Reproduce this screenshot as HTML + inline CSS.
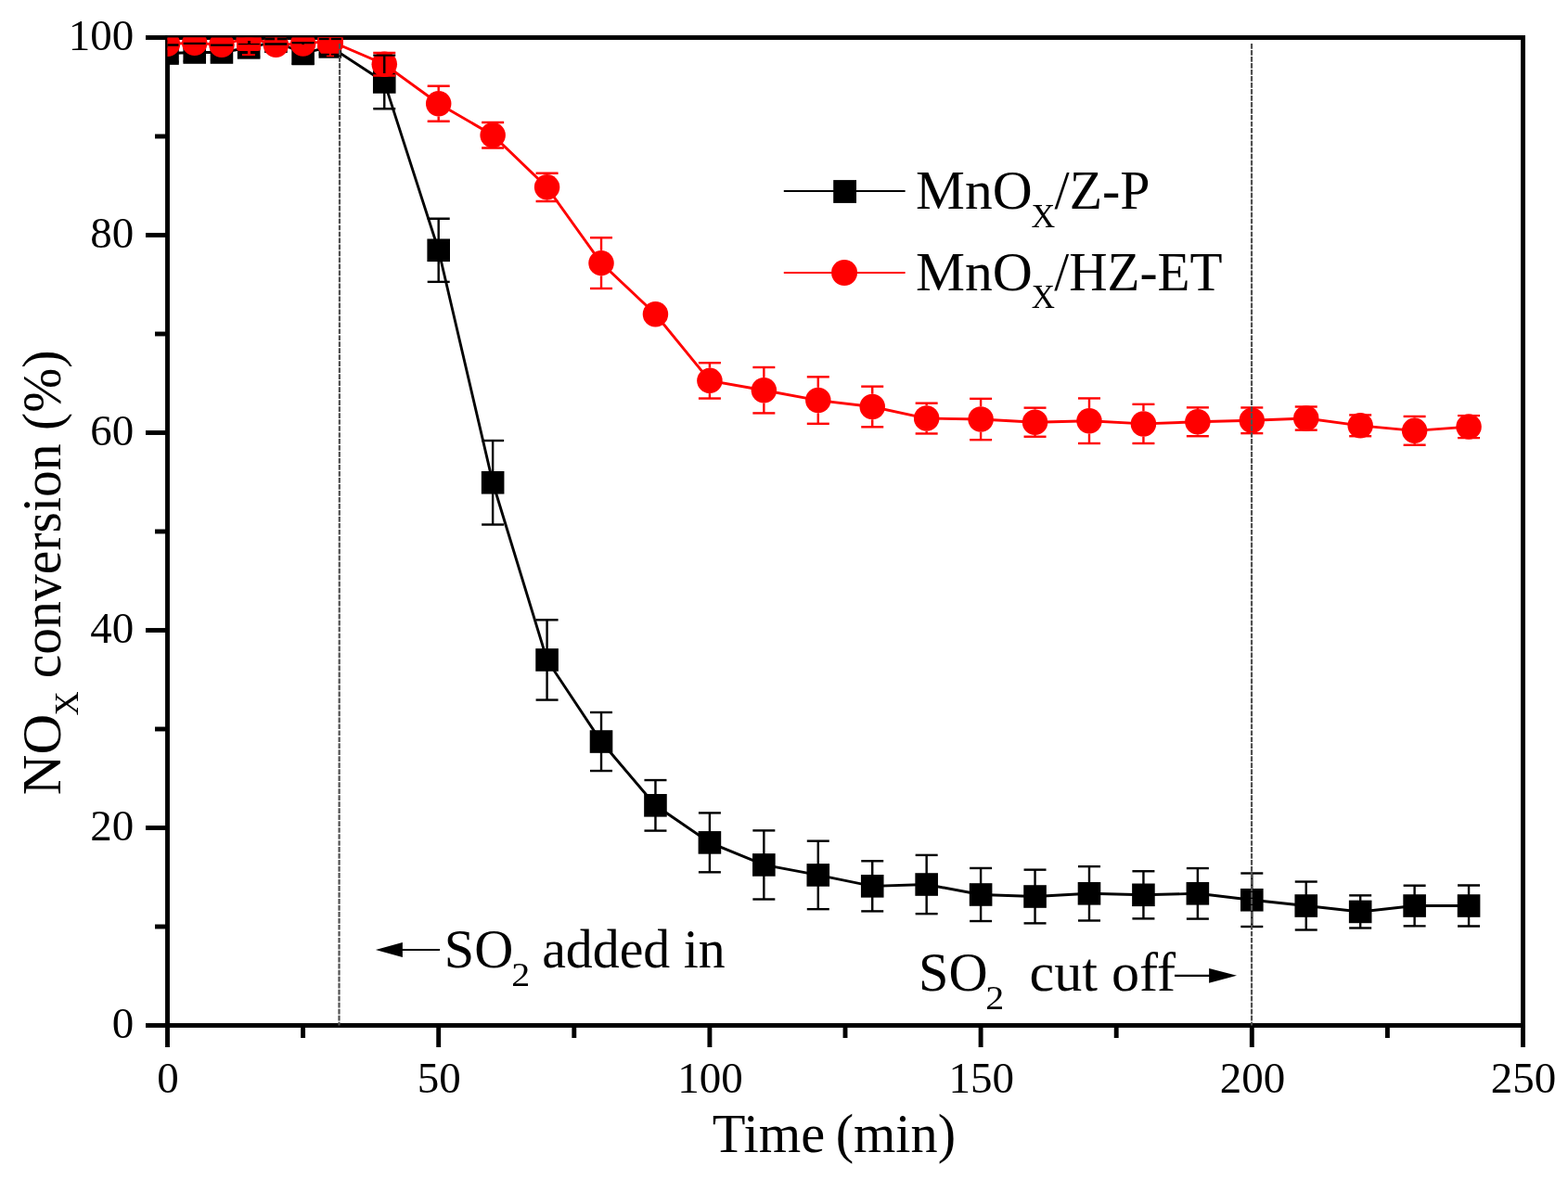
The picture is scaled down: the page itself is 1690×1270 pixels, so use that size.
<!DOCTYPE html><html><head><meta charset="utf-8"><title>NOx conversion vs time</title><style>html,body{margin:0;padding:0;background:#fff;}svg{display:block;}text{font-family:"Liberation Serif","Times New Roman",serif;fill:#000;}</style></head><body>
<svg width="1690" height="1270" viewBox="0 0 1690 1270">
<rect x="0" y="0" width="1690" height="1270" fill="#fff"/>
<defs><clipPath id="c"><rect x="180.50" y="40.50" width="1461.00" height="1065.00"/></clipPath></defs>
<g stroke="#000" stroke-width="4.90" fill="none" stroke-linecap="butt">
<rect x="180.50" y="40.50" width="1461.00" height="1065.00"/>
<line x1="157.00" y1="1105.50" x2="180.50" y2="1105.50"/>
<line x1="167.00" y1="999.00" x2="180.50" y2="999.00"/>
<line x1="157.00" y1="892.50" x2="180.50" y2="892.50"/>
<line x1="167.00" y1="786.00" x2="180.50" y2="786.00"/>
<line x1="157.00" y1="679.50" x2="180.50" y2="679.50"/>
<line x1="167.00" y1="573.00" x2="180.50" y2="573.00"/>
<line x1="157.00" y1="466.50" x2="180.50" y2="466.50"/>
<line x1="167.00" y1="360.00" x2="180.50" y2="360.00"/>
<line x1="157.00" y1="253.50" x2="180.50" y2="253.50"/>
<line x1="167.00" y1="147.00" x2="180.50" y2="147.00"/>
<line x1="157.00" y1="40.50" x2="180.50" y2="40.50"/>
<line x1="180.50" y1="1105.50" x2="180.50" y2="1129.00"/>
<line x1="326.60" y1="1105.50" x2="326.60" y2="1119.00"/>
<line x1="472.70" y1="1105.50" x2="472.70" y2="1129.00"/>
<line x1="618.80" y1="1105.50" x2="618.80" y2="1119.00"/>
<line x1="764.90" y1="1105.50" x2="764.90" y2="1129.00"/>
<line x1="911.00" y1="1105.50" x2="911.00" y2="1119.00"/>
<line x1="1057.10" y1="1105.50" x2="1057.10" y2="1129.00"/>
<line x1="1203.20" y1="1105.50" x2="1203.20" y2="1119.00"/>
<line x1="1349.30" y1="1105.50" x2="1349.30" y2="1129.00"/>
<line x1="1495.40" y1="1105.50" x2="1495.40" y2="1119.00"/>
<line x1="1641.50" y1="1105.50" x2="1641.50" y2="1129.00"/>
</g>
<g clip-path="url(#c)">
<polyline points="180.50,57.54 209.72,56.48 238.94,56.48 268.16,51.36 297.38,44.76 326.60,57.54 355.82,50.40 414.26,88.43 472.70,269.79 531.14,520.28 589.58,711.45 648.02,799.53 706.46,868.32 764.90,908.37 823.34,932.44 881.78,943.41 940.22,955.34 998.66,953.52 1057.10,964.49 1115.54,966.52 1173.98,963.32 1232.42,964.81 1290.86,963.32 1349.30,970.25 1407.74,976.53 1466.18,982.92 1524.62,976.53 1583.06,976.53" fill="none" stroke="#000" stroke-width="2.90" stroke-linejoin="miter"/>
<rect x="168.20" y="45.24" width="24.60" height="24.60" fill="#000"/>
<rect x="197.42" y="44.17" width="24.60" height="24.60" fill="#000"/>
<rect x="226.64" y="44.17" width="24.60" height="24.60" fill="#000"/>
<rect x="255.86" y="39.06" width="24.60" height="24.60" fill="#000"/>
<rect x="285.08" y="32.46" width="24.60" height="24.60" fill="#000"/>
<rect x="314.30" y="45.24" width="24.60" height="24.60" fill="#000"/>
<rect x="343.52" y="38.10" width="24.60" height="24.60" fill="#000"/>
<rect x="401.96" y="76.13" width="24.60" height="24.60" fill="#000"/>
<rect x="460.40" y="257.49" width="24.60" height="24.60" fill="#000"/>
<rect x="518.84" y="507.98" width="24.60" height="24.60" fill="#000"/>
<rect x="577.28" y="699.15" width="24.60" height="24.60" fill="#000"/>
<rect x="635.72" y="787.23" width="24.60" height="24.60" fill="#000"/>
<rect x="694.16" y="856.02" width="24.60" height="24.60" fill="#000"/>
<rect x="752.60" y="896.07" width="24.60" height="24.60" fill="#000"/>
<rect x="811.04" y="920.14" width="24.60" height="24.60" fill="#000"/>
<rect x="869.48" y="931.11" width="24.60" height="24.60" fill="#000"/>
<rect x="927.92" y="943.04" width="24.60" height="24.60" fill="#000"/>
<rect x="986.36" y="941.22" width="24.60" height="24.60" fill="#000"/>
<rect x="1044.80" y="952.19" width="24.60" height="24.60" fill="#000"/>
<rect x="1103.24" y="954.22" width="24.60" height="24.60" fill="#000"/>
<rect x="1161.68" y="951.02" width="24.60" height="24.60" fill="#000"/>
<rect x="1220.12" y="952.51" width="24.60" height="24.60" fill="#000"/>
<rect x="1278.56" y="951.02" width="24.60" height="24.60" fill="#000"/>
<rect x="1337.00" y="957.95" width="24.60" height="24.60" fill="#000"/>
<rect x="1395.44" y="964.23" width="24.60" height="24.60" fill="#000"/>
<rect x="1453.88" y="970.62" width="24.60" height="24.60" fill="#000"/>
<rect x="1512.32" y="964.23" width="24.60" height="24.60" fill="#000"/>
<rect x="1570.76" y="964.23" width="24.60" height="24.60" fill="#000"/>
<polyline points="180.50,47.32 209.72,46.36 238.94,48.17 268.16,40.82 297.38,48.27 326.60,47.10 355.82,44.12 414.26,69.26 472.70,111.75 531.14,145.72 589.58,201.85 648.02,283.64 706.46,338.81 764.90,410.37 823.34,420.71 881.78,431.57 940.22,438.49 998.66,451.06 1057.10,452.02 1115.54,455.21 1173.98,453.72 1232.42,456.92 1290.86,454.79 1349.30,453.29 1407.74,451.06 1466.18,458.83 1524.62,464.37 1583.06,460.11" fill="none" stroke="#f00" stroke-width="2.90" stroke-linejoin="miter"/>
<circle cx="180.50" cy="47.32" r="13.75" fill="#f00"/>
<circle cx="209.72" cy="46.36" r="13.75" fill="#f00"/>
<circle cx="238.94" cy="48.17" r="13.75" fill="#f00"/>
<circle cx="268.16" cy="40.82" r="13.75" fill="#f00"/>
<circle cx="297.38" cy="48.27" r="13.75" fill="#f00"/>
<circle cx="326.60" cy="47.10" r="13.75" fill="#f00"/>
<circle cx="355.82" cy="44.12" r="13.75" fill="#f00"/>
<circle cx="414.26" cy="69.26" r="13.75" fill="#f00"/>
<circle cx="472.70" cy="111.75" r="13.75" fill="#f00"/>
<circle cx="531.14" cy="145.72" r="13.75" fill="#f00"/>
<circle cx="589.58" cy="201.85" r="13.75" fill="#f00"/>
<circle cx="648.02" cy="283.64" r="13.75" fill="#f00"/>
<circle cx="706.46" cy="338.81" r="13.75" fill="#f00"/>
<circle cx="764.90" cy="410.37" r="13.75" fill="#f00"/>
<circle cx="823.34" cy="420.71" r="13.75" fill="#f00"/>
<circle cx="881.78" cy="431.57" r="13.75" fill="#f00"/>
<circle cx="940.22" cy="438.49" r="13.75" fill="#f00"/>
<circle cx="998.66" cy="451.06" r="13.75" fill="#f00"/>
<circle cx="1057.10" cy="452.02" r="13.75" fill="#f00"/>
<circle cx="1115.54" cy="455.21" r="13.75" fill="#f00"/>
<circle cx="1173.98" cy="453.72" r="13.75" fill="#f00"/>
<circle cx="1232.42" cy="456.92" r="13.75" fill="#f00"/>
<circle cx="1290.86" cy="454.79" r="13.75" fill="#f00"/>
<circle cx="1349.30" cy="453.29" r="13.75" fill="#f00"/>
<circle cx="1407.74" cy="451.06" r="13.75" fill="#f00"/>
<circle cx="1466.18" cy="458.83" r="13.75" fill="#f00"/>
<circle cx="1524.62" cy="464.37" r="13.75" fill="#f00"/>
<circle cx="1583.06" cy="460.11" r="13.75" fill="#f00"/>
<g stroke="#000" stroke-width="2.40" fill="none"><line x1="168.50" y1="48.49" x2="192.50" y2="48.49"/><line x1="168.50" y1="66.59" x2="192.50" y2="66.59"/><line x1="209.72" y1="46.98" x2="209.72" y2="46.89"/><line x1="209.72" y1="65.97" x2="209.72" y2="66.06"/><line x1="197.72" y1="46.89" x2="221.72" y2="46.89"/><line x1="197.72" y1="66.06" x2="221.72" y2="66.06"/><line x1="226.94" y1="48.59" x2="250.94" y2="48.59"/><line x1="226.94" y1="64.36" x2="250.94" y2="64.36"/><line x1="268.16" y1="41.86" x2="268.16" y2="41.78"/><line x1="268.16" y1="60.86" x2="268.16" y2="60.95"/><line x1="256.16" y1="41.78" x2="280.16" y2="41.78"/><line x1="256.16" y1="60.95" x2="280.16" y2="60.95"/><line x1="285.38" y1="41.99" x2="309.38" y2="41.99"/><line x1="285.38" y1="47.53" x2="309.38" y2="47.53"/><line x1="326.60" y1="48.04" x2="326.60" y2="46.14"/><line x1="326.60" y1="67.04" x2="326.60" y2="68.94"/><line x1="314.60" y1="46.14" x2="338.60" y2="46.14"/><line x1="314.60" y1="68.94" x2="338.60" y2="68.94"/><line x1="343.82" y1="42.10" x2="367.82" y2="42.10"/><line x1="343.82" y1="58.71" x2="367.82" y2="58.71"/><line x1="414.26" y1="78.93" x2="414.26" y2="59.67"/><line x1="414.26" y1="97.93" x2="414.26" y2="117.18"/><line x1="402.26" y1="59.67" x2="426.26" y2="59.67"/><line x1="402.26" y1="117.18" x2="426.26" y2="117.18"/><line x1="472.70" y1="260.29" x2="472.70" y2="235.71"/><line x1="472.70" y1="279.29" x2="472.70" y2="303.87"/><line x1="460.70" y1="235.71" x2="484.70" y2="235.71"/><line x1="460.70" y1="303.87" x2="484.70" y2="303.87"/><line x1="531.14" y1="510.78" x2="531.14" y2="475.02"/><line x1="531.14" y1="529.78" x2="531.14" y2="565.55"/><line x1="519.14" y1="475.02" x2="543.14" y2="475.02"/><line x1="519.14" y1="565.55" x2="543.14" y2="565.55"/><line x1="589.58" y1="701.95" x2="589.58" y2="668.32"/><line x1="589.58" y1="720.95" x2="589.58" y2="754.58"/><line x1="577.58" y1="668.32" x2="601.58" y2="668.32"/><line x1="577.58" y1="754.58" x2="601.58" y2="754.58"/><line x1="648.02" y1="790.03" x2="648.02" y2="768.00"/><line x1="648.02" y1="809.03" x2="648.02" y2="831.05"/><line x1="636.02" y1="768.00" x2="660.02" y2="768.00"/><line x1="636.02" y1="831.05" x2="660.02" y2="831.05"/><line x1="706.46" y1="858.82" x2="706.46" y2="841.06"/><line x1="706.46" y1="877.82" x2="706.46" y2="895.59"/><line x1="694.46" y1="841.06" x2="718.46" y2="841.06"/><line x1="694.46" y1="895.59" x2="718.46" y2="895.59"/><line x1="764.90" y1="898.87" x2="764.90" y2="876.42"/><line x1="764.90" y1="917.87" x2="764.90" y2="940.32"/><line x1="752.90" y1="876.42" x2="776.90" y2="876.42"/><line x1="752.90" y1="940.32" x2="776.90" y2="940.32"/><line x1="823.34" y1="922.94" x2="823.34" y2="895.38"/><line x1="823.34" y1="941.94" x2="823.34" y2="969.50"/><line x1="811.34" y1="895.38" x2="835.34" y2="895.38"/><line x1="811.34" y1="969.50" x2="835.34" y2="969.50"/><line x1="881.78" y1="933.91" x2="881.78" y2="906.66"/><line x1="881.78" y1="952.91" x2="881.78" y2="980.15"/><line x1="869.78" y1="906.66" x2="893.78" y2="906.66"/><line x1="869.78" y1="980.15" x2="893.78" y2="980.15"/><line x1="940.22" y1="945.84" x2="940.22" y2="928.28"/><line x1="940.22" y1="964.84" x2="940.22" y2="982.39"/><line x1="928.22" y1="928.28" x2="952.22" y2="928.28"/><line x1="928.22" y1="982.39" x2="952.22" y2="982.39"/><line x1="998.66" y1="944.02" x2="998.66" y2="921.89"/><line x1="998.66" y1="963.02" x2="998.66" y2="985.16"/><line x1="986.66" y1="921.89" x2="1010.66" y2="921.89"/><line x1="986.66" y1="985.16" x2="1010.66" y2="985.16"/><line x1="1057.10" y1="954.99" x2="1057.10" y2="935.95"/><line x1="1057.10" y1="973.99" x2="1057.10" y2="993.04"/><line x1="1045.10" y1="935.95" x2="1069.10" y2="935.95"/><line x1="1045.10" y1="993.04" x2="1069.10" y2="993.04"/><line x1="1115.54" y1="957.02" x2="1115.54" y2="937.66"/><line x1="1115.54" y1="976.02" x2="1115.54" y2="995.38"/><line x1="1103.54" y1="937.66" x2="1127.54" y2="937.66"/><line x1="1103.54" y1="995.38" x2="1127.54" y2="995.38"/><line x1="1173.98" y1="953.82" x2="1173.98" y2="934.14"/><line x1="1173.98" y1="972.82" x2="1173.98" y2="992.50"/><line x1="1161.98" y1="934.14" x2="1185.98" y2="934.14"/><line x1="1161.98" y1="992.50" x2="1185.98" y2="992.50"/><line x1="1232.42" y1="955.31" x2="1232.42" y2="939.25"/><line x1="1232.42" y1="974.31" x2="1232.42" y2="990.37"/><line x1="1220.42" y1="939.25" x2="1244.42" y2="939.25"/><line x1="1220.42" y1="990.37" x2="1244.42" y2="990.37"/><line x1="1290.86" y1="953.82" x2="1290.86" y2="936.06"/><line x1="1290.86" y1="972.82" x2="1290.86" y2="990.59"/><line x1="1278.86" y1="936.06" x2="1302.86" y2="936.06"/><line x1="1278.86" y1="990.59" x2="1302.86" y2="990.59"/><line x1="1349.30" y1="960.75" x2="1349.30" y2="941.49"/><line x1="1349.30" y1="979.75" x2="1349.30" y2="999.00"/><line x1="1337.30" y1="941.49" x2="1361.30" y2="941.49"/><line x1="1337.30" y1="999.00" x2="1361.30" y2="999.00"/><line x1="1407.74" y1="967.03" x2="1407.74" y2="950.54"/><line x1="1407.74" y1="986.03" x2="1407.74" y2="1002.51"/><line x1="1395.74" y1="950.54" x2="1419.74" y2="950.54"/><line x1="1395.74" y1="1002.51" x2="1419.74" y2="1002.51"/><line x1="1466.18" y1="973.42" x2="1466.18" y2="965.35"/><line x1="1466.18" y1="992.42" x2="1466.18" y2="1000.49"/><line x1="1454.18" y1="965.35" x2="1478.18" y2="965.35"/><line x1="1454.18" y1="1000.49" x2="1478.18" y2="1000.49"/><line x1="1524.62" y1="967.03" x2="1524.62" y2="954.70"/><line x1="1524.62" y1="986.03" x2="1524.62" y2="998.36"/><line x1="1512.62" y1="954.70" x2="1536.62" y2="954.70"/><line x1="1512.62" y1="998.36" x2="1536.62" y2="998.36"/><line x1="1583.06" y1="967.03" x2="1583.06" y2="954.48"/><line x1="1583.06" y1="986.03" x2="1583.06" y2="998.57"/><line x1="1571.06" y1="954.48" x2="1595.06" y2="954.48"/><line x1="1571.06" y1="998.57" x2="1595.06" y2="998.57"/></g>
<g stroke="#f00" stroke-width="2.40" fill="none"><line x1="168.50" y1="41.99" x2="192.50" y2="41.99"/><line x1="168.50" y1="52.64" x2="192.50" y2="52.64"/><line x1="197.72" y1="41.03" x2="221.72" y2="41.03"/><line x1="197.72" y1="51.68" x2="221.72" y2="51.68"/><line x1="226.94" y1="42.84" x2="250.94" y2="42.84"/><line x1="226.94" y1="53.49" x2="250.94" y2="53.49"/><line x1="314.60" y1="41.78" x2="338.60" y2="41.78"/><line x1="314.60" y1="52.43" x2="338.60" y2="52.43"/><line x1="402.26" y1="57.01" x2="426.26" y2="57.01"/><line x1="402.26" y1="81.50" x2="426.26" y2="81.50"/><line x1="472.70" y1="98.00" x2="472.70" y2="92.68"/><line x1="472.70" y1="125.50" x2="472.70" y2="130.81"/><line x1="460.70" y1="92.68" x2="484.70" y2="92.68"/><line x1="460.70" y1="130.81" x2="484.70" y2="130.81"/><line x1="519.14" y1="131.98" x2="543.14" y2="131.98"/><line x1="519.14" y1="159.46" x2="543.14" y2="159.46"/><line x1="589.58" y1="188.10" x2="589.58" y2="186.72"/><line x1="589.58" y1="215.60" x2="589.58" y2="216.97"/><line x1="577.58" y1="186.72" x2="601.58" y2="186.72"/><line x1="577.58" y1="216.97" x2="601.58" y2="216.97"/><line x1="648.02" y1="269.89" x2="648.02" y2="256.27"/><line x1="648.02" y1="297.39" x2="648.02" y2="311.01"/><line x1="636.02" y1="256.27" x2="660.02" y2="256.27"/><line x1="636.02" y1="311.01" x2="660.02" y2="311.01"/><line x1="694.46" y1="333.48" x2="718.46" y2="333.48"/><line x1="694.46" y1="344.13" x2="718.46" y2="344.13"/><line x1="764.90" y1="396.62" x2="764.90" y2="391.20"/><line x1="764.90" y1="424.12" x2="764.90" y2="429.54"/><line x1="752.90" y1="391.20" x2="776.90" y2="391.20"/><line x1="752.90" y1="429.54" x2="776.90" y2="429.54"/><line x1="823.34" y1="406.96" x2="823.34" y2="396.00"/><line x1="823.34" y1="434.46" x2="823.34" y2="445.41"/><line x1="811.34" y1="396.00" x2="835.34" y2="396.00"/><line x1="811.34" y1="445.41" x2="835.34" y2="445.41"/><line x1="881.78" y1="417.82" x2="881.78" y2="406.33"/><line x1="881.78" y1="445.32" x2="881.78" y2="456.81"/><line x1="869.78" y1="406.33" x2="893.78" y2="406.33"/><line x1="869.78" y1="456.81" x2="893.78" y2="456.81"/><line x1="940.22" y1="424.74" x2="940.22" y2="416.66"/><line x1="940.22" y1="452.24" x2="940.22" y2="460.32"/><line x1="928.22" y1="416.66" x2="952.22" y2="416.66"/><line x1="928.22" y1="460.32" x2="952.22" y2="460.32"/><line x1="998.66" y1="437.31" x2="998.66" y2="434.66"/><line x1="998.66" y1="464.81" x2="998.66" y2="467.46"/><line x1="986.66" y1="434.66" x2="1010.66" y2="434.66"/><line x1="986.66" y1="467.46" x2="1010.66" y2="467.46"/><line x1="1057.10" y1="438.27" x2="1057.10" y2="429.86"/><line x1="1057.10" y1="465.77" x2="1057.10" y2="474.17"/><line x1="1045.10" y1="429.86" x2="1069.10" y2="429.86"/><line x1="1045.10" y1="474.17" x2="1069.10" y2="474.17"/><line x1="1115.54" y1="441.46" x2="1115.54" y2="439.66"/><line x1="1115.54" y1="468.96" x2="1115.54" y2="470.76"/><line x1="1103.54" y1="439.66" x2="1127.54" y2="439.66"/><line x1="1103.54" y1="470.76" x2="1127.54" y2="470.76"/><line x1="1173.98" y1="439.97" x2="1173.98" y2="429.44"/><line x1="1173.98" y1="467.47" x2="1173.98" y2="478.00"/><line x1="1161.98" y1="429.44" x2="1185.98" y2="429.44"/><line x1="1161.98" y1="478.00" x2="1185.98" y2="478.00"/><line x1="1232.42" y1="443.17" x2="1232.42" y2="435.83"/><line x1="1232.42" y1="470.67" x2="1232.42" y2="478.00"/><line x1="1220.42" y1="435.83" x2="1244.42" y2="435.83"/><line x1="1220.42" y1="478.00" x2="1244.42" y2="478.00"/><line x1="1290.86" y1="441.04" x2="1290.86" y2="439.34"/><line x1="1290.86" y1="468.54" x2="1290.86" y2="470.23"/><line x1="1278.86" y1="439.34" x2="1302.86" y2="439.34"/><line x1="1278.86" y1="470.23" x2="1302.86" y2="470.23"/><line x1="1349.30" y1="439.54" x2="1349.30" y2="439.45"/><line x1="1349.30" y1="467.04" x2="1349.30" y2="467.14"/><line x1="1337.30" y1="439.45" x2="1361.30" y2="439.45"/><line x1="1337.30" y1="467.14" x2="1361.30" y2="467.14"/><line x1="1395.74" y1="438.49" x2="1419.74" y2="438.49"/><line x1="1395.74" y1="463.62" x2="1419.74" y2="463.62"/><line x1="1454.18" y1="447.44" x2="1478.18" y2="447.44"/><line x1="1454.18" y1="470.23" x2="1478.18" y2="470.23"/><line x1="1524.62" y1="450.62" x2="1524.62" y2="448.93"/><line x1="1524.62" y1="478.12" x2="1524.62" y2="479.81"/><line x1="1512.62" y1="448.93" x2="1536.62" y2="448.93"/><line x1="1512.62" y1="479.81" x2="1536.62" y2="479.81"/><line x1="1571.06" y1="448.08" x2="1595.06" y2="448.08"/><line x1="1571.06" y1="472.14" x2="1595.06" y2="472.14"/></g>
<rect x="255" y="38" width="26" height="17" rx="3" fill="#f00"/>
<rect x="256.7" y="46.9" width="23.2" height="1.3" fill="#000"/>
<rect x="267" y="44" width="3" height="3.5" fill="#000"/>
<rect x="266.9" y="54.5" width="3.1" height="4" fill="#f00"/>
<rect x="261" y="58" width="14" height="2.1" fill="#f00"/>
<rect x="296" y="40" width="2.8" height="4.2" fill="#f00"/>
<path d="M342.1,38 L369.9,38 L369.9,51 L364.8,57.8 L346,57.8 L342.1,52 Z" fill="#f00"/>
<rect x="343.9" y="41" width="10.9" height="2.1" fill="#000"/>
<rect x="357" y="41" width="10.8" height="2.1" fill="#000"/>
<rect x="354.8" y="40" width="2.2" height="20" fill="#f00"/>
<rect x="351.9" y="59.6" width="8.2" height="1.6" fill="#f00"/>
</g>
<g stroke="#505050" stroke-width="2.2" stroke-dasharray="5.7 1.284" fill="none">
<line x1="366.1" y1="47.1" x2="365.5" y2="1105.50"/>
<line x1="1349.05" y1="47.1" x2="1349.05" y2="1105.50"/>
</g>
<g font-size="47" text-anchor="end">
<text x="144.2" y="1118.70">0</text>
<text x="144.2" y="905.70">20</text>
<text x="144.2" y="692.70">40</text>
<text x="144.2" y="479.70">60</text>
<text x="144.2" y="266.70">80</text>
<text x="144.2" y="53.70">100</text>
</g>
<g font-size="47" text-anchor="middle">
<text x="181.10" y="1177.5">0</text>
<text x="473.30" y="1177.5">50</text>
<text x="765.50" y="1177.5">100</text>
<text x="1057.70" y="1177.5">150</text>
<text x="1349.90" y="1177.5">200</text>
<text x="1642.10" y="1177.5">250</text>
</g>
<text x="767.86" y="1242.00" font-size="58.50" textLength="121.33" lengthAdjust="spacingAndGlyphs">Time</text>
<text x="900.64" y="1242.00" font-size="58.50" textLength="129.42" lengthAdjust="spacingAndGlyphs">(min)</text>
<g transform="rotate(-90)">
<text x="-857.24" y="65.00" font-size="58.50" textLength="87.32" lengthAdjust="spacingAndGlyphs">NO</text>
<text x="-771.50" y="84.10" font-size="35.00" textLength="26.26" lengthAdjust="spacingAndGlyphs">X</text>
<text x="-731.30" y="65.00" font-size="58.50" textLength="353.83" lengthAdjust="spacingAndGlyphs">conversion (%)</text>
</g>
<line x1="844.8" y1="206" x2="975.6" y2="206" stroke="#000" stroke-width="2.0"/>
<rect x="898.2" y="194.1" width="24.8" height="24.8" fill="#000"/>
<line x1="844.8" y1="293.9" x2="975.6" y2="293.9" stroke="#f00" stroke-width="2.0"/>
<circle cx="910.05" cy="294" r="14" fill="#f00"/>
<text x="987.09" y="224.80" font-size="58.50" textLength="125.55" lengthAdjust="spacingAndGlyphs">MnO</text>
<text x="1111.52" y="244.50" font-size="35.00" textLength="25.73" lengthAdjust="spacingAndGlyphs">X</text>
<text x="1136.60" y="224.80" font-size="58.50" textLength="102.92" lengthAdjust="spacingAndGlyphs">/Z-P</text>
<text x="986.98" y="312.50" font-size="58.50" textLength="125.97" lengthAdjust="spacingAndGlyphs">MnO</text>
<text x="1111.73" y="332.20" font-size="35.00" textLength="25.20" lengthAdjust="spacingAndGlyphs">X</text>
<text x="1136.30" y="312.50" font-size="58.50" textLength="181.15" lengthAdjust="spacingAndGlyphs">/HZ-ET</text>
<text x="478.80" y="1043.20" font-size="58.50" textLength="74.49" lengthAdjust="spacingAndGlyphs">SO</text>
<text x="551.35" y="1063.00" font-size="35.00" textLength="19.96" lengthAdjust="spacingAndGlyphs">2</text>
<text x="584.17" y="1043.00" font-size="58.50" textLength="197.61" lengthAdjust="spacingAndGlyphs">added in</text>
<text x="990.00" y="1068.20" font-size="58.50" textLength="74.49" lengthAdjust="spacingAndGlyphs">SO</text>
<text x="1062.35" y="1087.90" font-size="35.00" textLength="19.96" lengthAdjust="spacingAndGlyphs">2</text>
<text x="1109.53" y="1068.00" font-size="58.50" textLength="157.37" lengthAdjust="spacingAndGlyphs">cut off</text>
<line x1="430" y1="1024" x2="474" y2="1024" stroke="#000" stroke-width="2.2"/>
<polygon points="404.9,1024 433.9,1016 433.9,1032" fill="#000"/>
<line x1="1266" y1="1051.8" x2="1306" y2="1051.8" stroke="#000" stroke-width="2.2"/>
<polygon points="1333,1051.8 1303.1,1043.9 1303.1,1059.8" fill="#000"/>
</svg></body></html>
